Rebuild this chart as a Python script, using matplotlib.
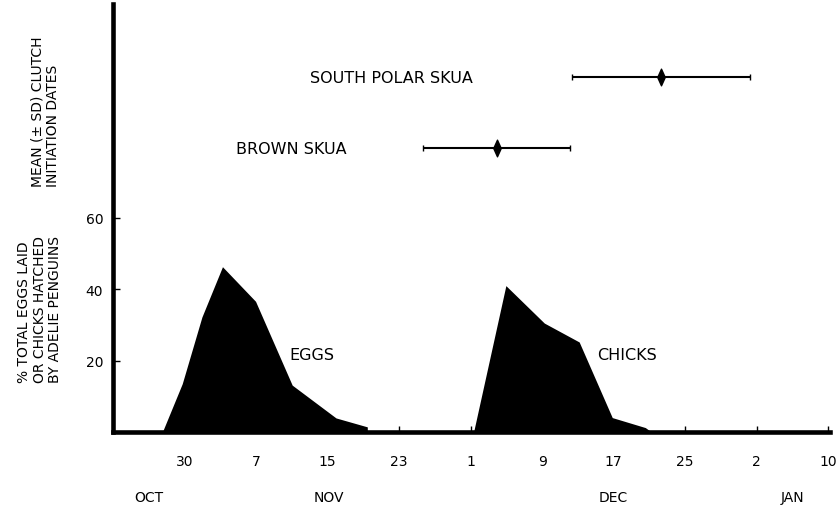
import matplotlib
matplotlib.use('Agg')
import matplotlib.pyplot as plt
from matplotlib.path import Path

# day numbers counted from 1 Oct (Oct 30 = 30, Nov 7 = 38, Dec 1 = 62, Jan 2 = 94)
egg_days = [27.6, 29.8, 32.0, 34.3, 38.0, 42.1, 47.0, 50.5, 50.5]
egg_pct = [0, 13.4, 32.1, 46.2, 36.5, 13.0, 3.8, 1.3, 0]

chick_days = [62.4, 66.0, 70.3, 74.2, 77.9, 81.6, 82.2]
chick_pct = [0, 40.9, 30.4, 25.1, 3.9, 1.1, 0]

skua_names = ['SOUTH POLAR SKUA', 'BROWN SKUA']
skua_mean = [83.3, 64.9]
skua_sd = [10.0, 8.2]
skua_row = [99.5, 79.5]
skua_label_x = [44.0, 35.8]

tick_days = [30, 38, 46, 54, 62, 70, 78, 86, 94, 102]
tick_labels = ['30', '7', '15', '23', '1', '9', '17', '25', '2', '10']
month_names = ['OCT', 'NOV', 'DEC', 'JAN']
month_days = [26.0, 46.2, 78.0, 98.0]

plt.rcParams['font.family'] = ['DejaVu Sans']

fig = plt.figure(figsize=(8.36, 5.10), dpi=100)
ax = fig.add_axes([113/836, 77/510, 717/836, 428/510])

# penguin egg laying and chick hatching curves
ax.fill(egg_days, egg_pct, color='black', lw=0)
ax.fill(chick_days, chick_pct, color='black', lw=0)
ax.text(41.7, 21.8, 'EGGS', fontsize=11.5, va='center', ha='left')
ax.text(76.1, 21.8, 'CHICKS', fontsize=11.5, va='center', ha='left')

# skua clutch initiation dates, mean +- SD
diamond = Path([(0, 1), (0.45, 0), (0, -1), (-0.45, 0), (0, 1)],
               [Path.MOVETO, Path.LINETO, Path.LINETO, Path.LINETO, Path.CLOSEPOLY])
for name, m, sd, row, lx in zip(skua_names, skua_mean, skua_sd, skua_row, skua_label_x):
    ax.errorbar(m, row, xerr=sd, fmt='none', ecolor='black', elinewidth=1.5,
                capsize=2, capthick=1)
    ax.plot(m, row, marker=diamond, markersize=12, color='black', ls='none')
    ax.text(lx, row, name, fontsize=11.5, va='center', ha='left')

ax.set_xlim(22, 102.2)
ax.set_ylim(0, 120)

for s in ['top', 'right']:
    ax.spines[s].set_visible(False)
ax.spines['left'].set_linewidth(3.3)
ax.spines['bottom'].set_linewidth(3.3)

ax.set_yticks([20, 40, 60])
ax.set_yticklabels(['20', '40', '60'], fontsize=10)
ax.set_xticks(tick_days)
ax.set_xticklabels(tick_labels, fontsize=10)
ax.tick_params(axis='y', direction='in', length=5, width=1, pad=7)
ax.tick_params(axis='x', direction='in', length=4, width=1, pad=16)

for name, d in zip(month_names, month_days):
    ax.text(d, -0.152, name, fontsize=10, ha='center', va='center',
            transform=ax.get_xaxis_transform())

fig.text(39.5/836, 1 - 383/510, '% TOTAL EGGS LAID\nOR CHICKS HATCHED\nBY ADELIE PENGUINS',
         rotation=90, ha='center', va='bottom', fontsize=10, multialignment='left',
         linespacing=1.12)
fig.text(45/836, 1 - 187/510, 'MEAN (± SD) CLUTCH\nINITIATION DATES',
         rotation=90, ha='center', va='bottom', fontsize=10, multialignment='left',
         linespacing=1.12)

fig.savefig('out.png', dpi=100)
